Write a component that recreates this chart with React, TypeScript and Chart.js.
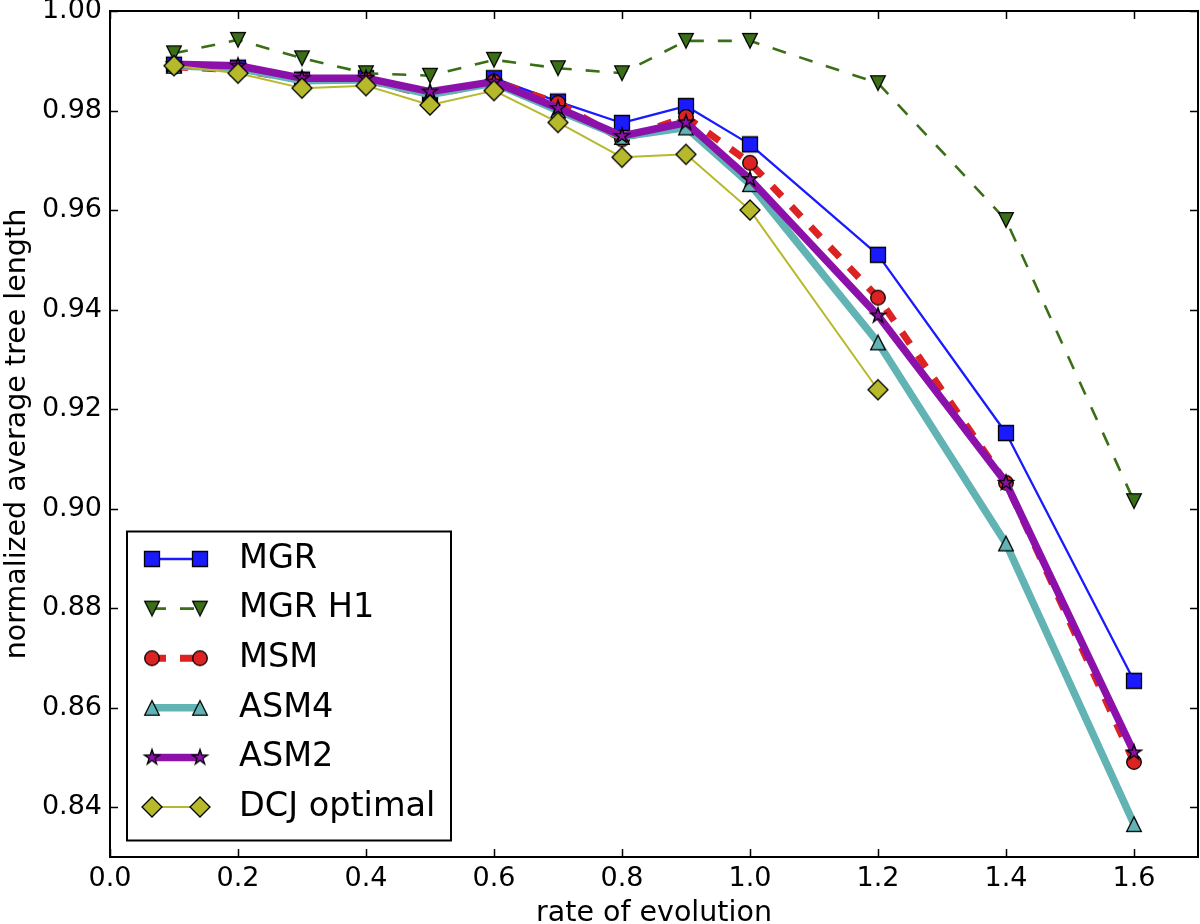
import React, { useEffect, useRef } from 'react';
import { Chart, registerables } from 'chart.js';

Chart.register(...registerables);

// ---------- data ----------
const rates = [0.1, 0.2, 0.3, 0.4, 0.5, 0.6, 0.7, 0.8, 0.9, 1.0, 1.2, 1.4, 1.6];
const mgr = [0.9892, 0.9886, 0.9862, 0.9865, 0.9828, 0.9865, 0.9818, 0.9775, 0.9809, 0.9732, 0.951, 0.9152, 0.8654];
const mgrH1 = [0.9915, 0.9942, 0.9905, 0.9875, 0.987, 0.9902, 0.9885, 0.9875, 0.994, 0.994, 0.9855, 0.958, 0.9015];
const msm = [0.9888, 0.9882, 0.9862, 0.9862, 0.983, 0.9858, 0.9815, 0.9742, 0.9787, 0.9695, 0.9424, 0.9052, 0.8491];
const asm4 = [0.989, 0.9885, 0.986, 0.9862, 0.9832, 0.9855, 0.98, 0.9747, 0.9766, 0.9652, 0.9334, 0.893, 0.8366];
const asm2 = [0.9893, 0.989, 0.9865, 0.9865, 0.9838, 0.9858, 0.9805, 0.9749, 0.9776, 0.9662, 0.9388, 0.9052, 0.851];
const dcjRates = [0.1, 0.2, 0.3, 0.4, 0.5, 0.6, 0.7, 0.8, 0.9, 1.0, 1.2];
const dcj = [0.989, 0.9875, 0.9845, 0.985, 0.9811, 0.984, 0.9776, 0.9706, 0.9712, 0.96, 0.9239];

const seriesLabels = ['MGR', 'MGR H1', 'MSM', 'ASM4', 'ASM2', 'DCJ optimal'];
const xTicks = [0.0, 0.2, 0.4, 0.6, 0.8, 1.0, 1.2, 1.4, 1.6];
const yTicks = [0.84, 0.86, 0.88, 0.9, 0.92, 0.94, 0.96, 0.98, 1.0];
const xTitle = 'rate of evolution';
const yTitle = 'normalized average tree length';

const FONT = 'DejaVu Sans';

type MarkerKind = 'square' | 'triDown' | 'circle' | 'triUp' | 'star' | 'diamond';

function makeMarker(kind: MarkerKind, fill: string): HTMLCanvasElement {
  const c = document.createElement('canvas');
  c.width = 26;
  c.height = 26;
  const g = c.getContext('2d')!;
  g.translate(13, 13);
  g.beginPath();
  if (kind === 'square') {
    g.rect(-7.5, -7.5, 15, 15);
  } else if (kind === 'triDown') {
    g.moveTo(0, 7.3);
    g.lineTo(-7.3, -7.3);
    g.lineTo(7.3, -7.3);
    g.closePath();
  } else if (kind === 'triUp') {
    g.moveTo(0, -7.3);
    g.lineTo(-7.3, 7.3);
    g.lineTo(7.3, 7.3);
    g.closePath();
  } else if (kind === 'circle') {
    g.arc(0, 0, 7.3, 0, Math.PI * 2);
  } else if (kind === 'star') {
    const R = 8;
    const r = R * 0.382;
    for (let i = 0; i < 10; i++) {
      const rad = i % 2 === 0 ? R : r;
      const a = -Math.PI / 2 + (i * Math.PI) / 5;
      const px = Math.cos(a) * rad;
      const py = Math.sin(a) * rad;
      if (i === 0) g.moveTo(px, py);
      else g.lineTo(px, py);
    }
    g.closePath();
  } else if (kind === 'diamond') {
    g.moveTo(0, -10);
    g.lineTo(10, 0);
    g.lineTo(0, 10);
    g.lineTo(-10, 0);
    g.closePath();
  }
  g.fillStyle = fill;
  g.fill();
  g.lineWidth = 1.3;
  g.lineJoin = 'miter';
  g.strokeStyle = '#000';
  g.stroke();
  return c;
}

const colors = ['#1a1aff', '#3a6f17', '#dc2222', '#62b3b3', '#8c10aa', '#b7b92c'];
const widths = [2.3, 2.6, 7, 7.5, 7.5, 2];
const dashes: number[][] = [[], [14, 14], [14, 14], [], [], []];
const markers: MarkerKind[] = ['square', 'triDown', 'circle', 'triUp', 'star', 'diamond'];

const frameAndLegend = {
  id: 'frameAndLegend',
  afterDatasetsDraw(chart: any) {
    const { ctx, chartArea: a, scales } = chart;
    const xs = scales.x;
    const ys = scales.y;
    ctx.save();
    ctx.strokeStyle = '#000';
    ctx.lineWidth = 1.5;
    ctx.beginPath();
    for (const t of xTicks) {
      const px = Math.round(xs.getPixelForValue(t)) + 0.5;
      ctx.moveTo(px, a.bottom);
      ctx.lineTo(px, a.bottom - 8);
      ctx.moveTo(px, a.top);
      ctx.lineTo(px, a.top + 8);
    }
    for (const t of yTicks) {
      const py = Math.round(ys.getPixelForValue(t)) + 0.5;
      ctx.moveTo(a.left, py);
      ctx.lineTo(a.left + 8, py);
      ctx.moveTo(a.right, py);
      ctx.lineTo(a.right - 8, py);
    }
    ctx.stroke();
    ctx.lineWidth = 2;
    ctx.strokeRect(a.left, a.top, a.right - a.left, a.bottom - a.top);

    // legend
    const bx = a.left + 17;
    const by = 531.5;
    const bw = 324;
    const bh = 309;
    ctx.fillStyle = '#fff';
    ctx.fillRect(bx, by, bw, bh);
    ctx.lineWidth = 2;
    ctx.strokeStyle = '#000';
    ctx.strokeRect(bx, by, bw, bh);
    const ds = chart.data.datasets;
    ds.forEach((d: any, i: number) => {
      const cy = by + 27.5 + i * 49.6;
      const x1 = bx + 25;
      const x2 = bx + 73;
      ctx.save();
      ctx.strokeStyle = d.borderColor;
      ctx.lineWidth = d.borderWidth;
      ctx.setLineDash(d.borderDash || []);
      ctx.lineCap = 'butt';
      ctx.beginPath();
      ctx.moveTo(x1, cy);
      ctx.lineTo(x2, cy);
      ctx.stroke();
      ctx.restore();
      const m: HTMLCanvasElement = d.pointStyle;
      ctx.drawImage(m, x1 - m.width / 2, cy - m.height / 2);
      ctx.drawImage(m, x2 - m.width / 2, cy - m.height / 2);
      ctx.fillStyle = '#000';
      ctx.font = `33.5px "${FONT}"`;
      ctx.textBaseline = 'middle';
      ctx.textAlign = 'left';
      ctx.fillText(d.label, bx + 112, cy);
    });
    ctx.restore();
  },
};

export default function App() {
  const ref = useRef<HTMLCanvasElement | null>(null);

  useEffect(() => {
    document.body.style.margin = '0';
    const canvas = ref.current!;
    Chart.defaults.font.family = FONT;
    Chart.defaults.color = '#000';

    const allY = [mgr, mgrH1, msm, asm4, asm2, dcj];
    const allX = [rates, rates, rates, rates, rates, dcjRates];
    const datasets = seriesLabels.map((label, i) => ({
      label,
      data: allX[i].map((xv, k) => ({ x: xv, y: allY[i][k] })),
      borderColor: colors[i],
      backgroundColor: colors[i],
      borderWidth: widths[i],
      borderDash: dashes[i],
      borderCapStyle: 'butt',
      borderJoinStyle: 'round',
      pointStyle: makeMarker(markers[i], colors[i]),
      pointRadius: 8,
      pointHoverRadius: 8,
      tension: 0,
      fill: false,
      order: seriesLabels.length - 1 - i,
    }));

    const chart = new Chart(canvas, {
      type: 'line',
      data: { datasets } as any,
      options: {
        animation: false,
        responsive: false,
        devicePixelRatio: 1,
        layout: { autoPadding: false, padding: { top: 11, right: 2, left: 0, bottom: 0 } },
        plugins: { legend: { display: false }, tooltip: { enabled: false } },
        scales: {
          x: {
            type: 'linear',
            min: 0,
            max: 1.7,
            afterBuildTicks: (s: any) => {
              s.ticks = xTicks.map((v) => ({ value: v }));
            },
            afterFit: (s: any) => {
              s.height = 67;
              s.paddingLeft = 0;
              s.paddingRight = 0;
              s.paddingTop = 0;
              s.paddingBottom = 0;
            },
            ticks: {
              callback: (v: any) => Number(v).toFixed(1),
              font: { family: FONT, size: 27, lineHeight: 1 },
              padding: 8.5,
              color: '#000',
              maxRotation: 0,
              autoSkip: false,
            },
            grid: { display: false, drawTicks: false },
            border: { display: false },
            title: {
              display: true,
              text: xTitle,
              color: '#000',
              font: { family: FONT, size: 28.5, lineHeight: 0.5 },
              padding: { top: 0, bottom: 3 },
            },
          },
          y: {
            type: 'linear',
            min: 0.83,
            max: 1.0,
            afterBuildTicks: (s: any) => {
              s.ticks = yTicks.map((v) => ({ value: v }));
            },
            afterFit: (s: any) => {
              s.width = 110;
              s.paddingLeft = 0;
              s.paddingRight = 0;
              s.paddingTop = 0;
              s.paddingBottom = 0;
            },
            ticks: {
              callback: (v: any) => Number(v).toFixed(2),
              font: { family: FONT, size: 27, lineHeight: 1 },
              padding: 8,
              color: '#000',
              autoSkip: false,
            },
            grid: { display: false, drawTicks: false },
            border: { display: false },
            title: {
              display: true,
              text: yTitle,
              color: '#000',
              font: { family: FONT, size: 28.5, lineHeight: 0.5 },
              padding: { top: 10, bottom: 0 },
            },
          },
        },
      },
      plugins: [frameAndLegend],
    } as any);

    return () => chart.destroy();
  }, []);

  return (
    <div style={{ position: 'absolute', left: 0, top: 0, width: 1200, height: 924 }}>
      <canvas ref={ref} width={1200} height={924} style={{ display: 'block' }} />
    </div>
  );
}
